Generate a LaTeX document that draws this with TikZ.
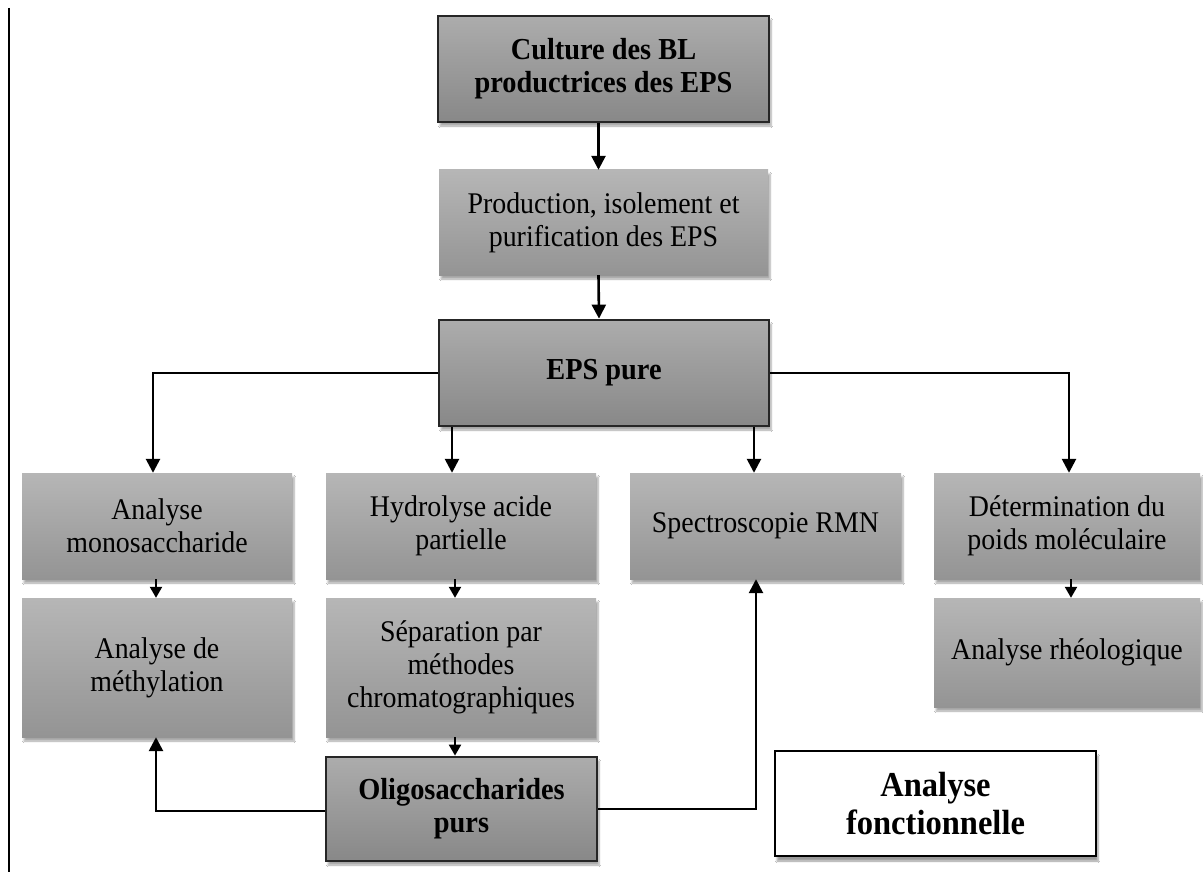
\documentclass[tikz,border=0pt]{standalone}
\usepackage{fontspec}
\setmainfont[FakeStretch=0.93]{Liberation Serif}
\usetikzlibrary{arrows.meta,shadows.blur}

\definecolor{boxtop}{RGB}{182,182,182}
\definecolor{boxbot}{RGB}{148,148,148}
\definecolor{keytop}{RGB}{172,172,172}
\definecolor{keybot}{RGB}{136,136,136}

\tikzset{
  stage/.style={rectangle, inner sep=2pt, align=center,
    top color=boxtop, bottom color=boxbot,
    font=\fontsize{30}{33}\selectfont,
    blur shadow={shadow xshift=2pt, shadow yshift=-4pt, shadow blur steps=6, shadow opacity=35}},
  keystage/.style={stage, top color=keytop, bottom color=keybot,
    draw=black!85, line width=2.8pt, font=\fontsize{30.5}{33}\selectfont\bfseries},
  arr/.style={line width=2.6pt, -{Triangle[length=14pt,width=14pt]}},
  sarr/.style={line width=2.2pt, -{Triangle[length=11pt,width=12pt]}},
}

\begin{document}
\begin{tikzpicture}[x=1pt,y=-1pt]
\useasboundingbox (0,0) rectangle (1203,872);
\fill[white] (0,0) rectangle (1203,872);

% margin rule on the left
\draw[line width=2pt] (9,8) -- (9,872);

% main column
\node[keystage, minimum width=331pt, minimum height=106pt] (cult) at (603.5,69)
  {Culture des BL\\productrices des EPS};
\node[stage, minimum width=329pt, minimum height=105pt] (prod) at (603.5,222.5)
  {Production, isolement et\\purification des EPS};
\node[keystage, minimum width=330pt, minimum height=106pt] (eps) at (604,373)
  {EPS pure};

% first row of analyses
\node[stage, minimum width=270pt, minimum height=106pt] (mono) at (157,526)
  {Analyse\\monosaccharide};
\node[stage, minimum width=270pt, minimum height=106pt] (hydro) at (461,526)
  {Hydrolyse acide\\partielle};
\node[stage, minimum width=271pt, minimum height=106pt] (rmn) at (765.5,526)
  {Spectroscopie RMN};
\node[stage, minimum width=266pt, minimum height=106pt] (poids) at (1067,526)
  {Détermination du\\poids moléculaire};

% second row
\node[stage, minimum width=270pt, minimum height=139pt] (meth) at (157,667.5)
  {Analyse de\\méthylation};
\node[stage, minimum width=270pt, minimum height=139pt] (sep) at (461,667.5)
  {Séparation par\\méthodes\\chromatographiques};
\node[stage, minimum width=266pt, minimum height=109pt] (rheo) at (1067,652.5)
  {Analyse rhéologique};

% oligosaccharides and legend box
\node[keystage, minimum width=271pt, minimum height=104pt] (oligo) at (461.5,809)
  {Oligosaccharides\\purs};
\node[rectangle, draw=black, line width=2pt, fill=white, align=center,
  minimum width=321pt, minimum height=105pt,
  font=\fontsize{35}{38}\selectfont\bfseries,
  blur shadow={shadow xshift=2pt, shadow yshift=-5pt, shadow blur steps=6, shadow opacity=40}]
  (fonc) at (935.5,803.5) {Analyse\\fonctionnelle};

% connectors
\draw[arr] ([xshift=-5pt]cult.south) -- ([xshift=-5pt]prod.north);
\draw[arr] ([xshift=-5pt]prod.south) -- ([xshift=-5pt]eps.north);
\draw[arr] (eps.west) -| ([xshift=-4pt]mono.north);
\draw[arr] (eps.east) -| ([xshift=2pt]poids.north);
\draw[arr] ([xshift=-9pt]hydro.north |- eps.south) -- ([xshift=-9pt]hydro.north);
\draw[arr] ([xshift=-11.5pt]rmn.north |- eps.south) -- ([xshift=-11.5pt]rmn.north);

\draw[sarr] ([xshift=-1pt]mono.south) -- ([xshift=-1pt]meth.north);
\draw[sarr] ([xshift=-6pt]hydro.south) -- ([xshift=-6pt]sep.north);
\draw[sarr] ([xshift=4pt]poids.south) -- ([xshift=4pt]rheo.north);
\draw[sarr] ([xshift=-6pt]sep.south) -- ([xshift=-6.5pt]oligo.north);

\draw[arr] ([yshift=-2pt]oligo.west) -| ([xshift=-1pt]meth.south);
\draw[arr] (oligo.east) -| ([xshift=-9.5pt]rmn.south);
\end{tikzpicture}
\end{document}
